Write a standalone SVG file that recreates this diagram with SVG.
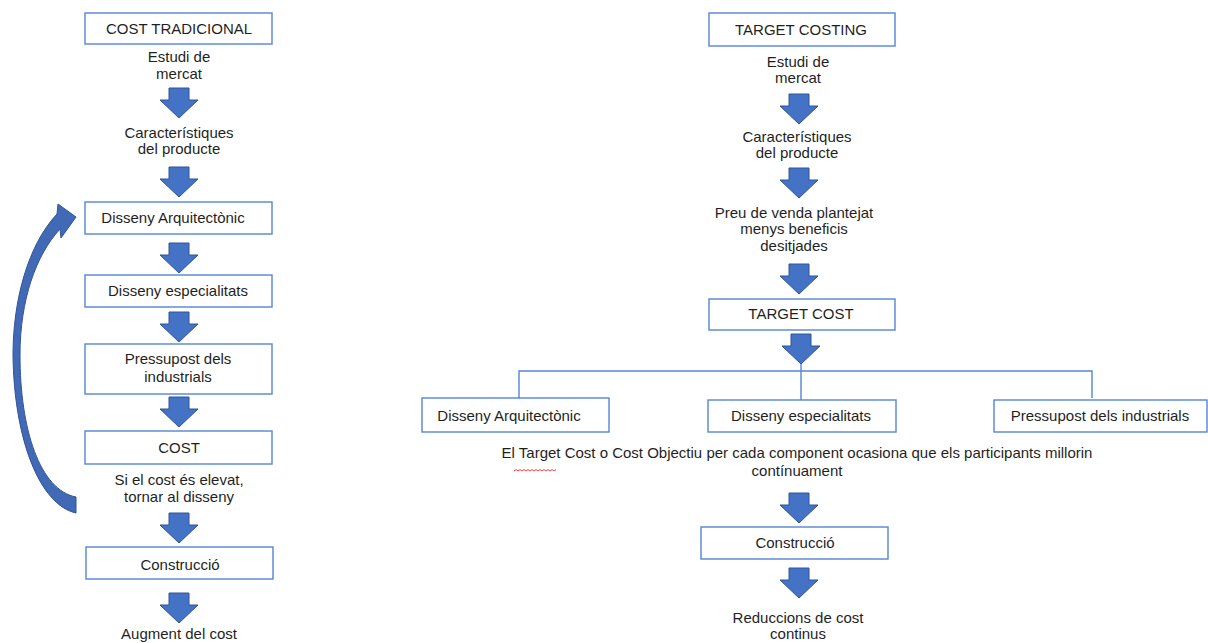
<svg xmlns="http://www.w3.org/2000/svg" width="1208" height="643" viewBox="0 0 1208 643">
  <defs>
    <style>
      .box { fill: #ffffff; stroke: #5585D5; stroke-width: 1.4; }
      .lbl { font-family: "Liberation Sans", Arial, sans-serif; font-size: 15px; fill: #1F1F1F; text-anchor: middle; }
      .link { fill: none; stroke: #5585D5; stroke-width: 1.4; }
      .blk { fill: #4472C4; stroke: #2F5597; stroke-width: 1; }
    </style>
    <!-- downward block arrow, origin at top centre -->
    <path id="down" class="blk" d="M-10,0 H10 V12 H19 L0,30 L-19,12 H-10 Z"/>
  </defs>

  <rect width="1208" height="643" fill="#ffffff"/>

  <!-- ===== Left column: traditional costing ===== -->
  <g id="cost-tradicional">
    <rect class="box" x="85" y="13" width="187" height="31"/>
    <text class="lbl" x="179" y="34">COST TRADICIONAL</text>
  </g>
  <g id="l-estudi">
    <text class="lbl" x="179" y="62">Estudi de</text>
    <text class="lbl" x="179" y="79">mercat</text>
  </g>
  <g id="l-caracteristiques">
    <text class="lbl" x="179" y="138">Característiques</text>
    <text class="lbl" x="179" y="154">del producte</text>
  </g>
  <g id="l-disseny-arq">
    <rect class="box" x="85" y="202" width="187" height="32"/>
    <text class="lbl" x="173" y="223">Disseny Arquitectònic</text>
  </g>
  <g id="l-disseny-esp">
    <rect class="box" x="85" y="275" width="187" height="32"/>
    <text class="lbl" x="178" y="296">Disseny especialitats</text>
  </g>
  <g id="l-pressupost">
    <rect class="box" x="85" y="344" width="187" height="50"/>
    <text class="lbl" x="178" y="364">Pressupost dels</text>
    <text class="lbl" x="178" y="382">industrials</text>
  </g>
  <g id="l-cost">
    <rect class="box" x="85" y="431" width="187" height="33"/>
    <text class="lbl" x="179" y="453">COST</text>
  </g>
  <g id="l-elevat">
    <text class="lbl" x="179" y="485">Si el cost és elevat,</text>
    <text class="lbl" x="179" y="502">tornar al disseny</text>
  </g>
  <g id="l-construccio">
    <rect class="box" x="86" y="547" width="187" height="32"/>
    <text class="lbl" x="180" y="570">Construcció</text>
  </g>
  <g id="l-augment">
    <text class="lbl" x="179" y="639">Augment del cost</text>
  </g>

  <!-- ===== Right column: target costing ===== -->
  <g id="target-costing">
    <rect class="box" x="709" y="13" width="186" height="33"/>
    <text class="lbl" x="801" y="35">TARGET COSTING</text>
  </g>
  <g id="r-estudi">
    <text class="lbl" x="798" y="67">Estudi de</text>
    <text class="lbl" x="798" y="83">mercat</text>
  </g>
  <g id="r-caracteristiques">
    <text class="lbl" x="797" y="142">Característiques</text>
    <text class="lbl" x="797" y="158">del producte</text>
  </g>
  <g id="r-preu">
    <text class="lbl" x="794" y="218">Preu de venda plantejat</text>
    <text class="lbl" x="794" y="234">menys beneficis</text>
    <text class="lbl" x="794" y="251">desitjades</text>
  </g>
  <g id="target-cost">
    <rect class="box" x="709" y="299" width="186" height="31"/>
    <text class="lbl" x="801" y="319">TARGET COST</text>
  </g>
  <g id="r-disseny-arq">
    <rect class="box" x="422" y="398" width="187" height="34"/>
    <text class="lbl" x="509" y="421">Disseny Arquitectònic</text>
  </g>
  <g id="r-disseny-esp">
    <rect class="box" x="708" y="400" width="188" height="32"/>
    <text class="lbl" x="801" y="421">Disseny especialitats</text>
  </g>
  <g id="r-pressupost">
    <rect class="box" x="994" y="400" width="213" height="32"/>
    <text class="lbl" x="1100" y="421">Pressupost dels industrials</text>
  </g>
  <g id="r-objectiu">
    <text class="lbl" x="797" y="458">El Target Cost o Cost Objectiu per cada component ocasiona que els participants millorin</text>
    <text class="lbl" x="797" y="476">contínuament</text>
    <!-- spell-check squiggle under "Target" -->
    <path d="M514,471 l2,-1.5 l2,1.5 l2,-1.5 l2,1.5 l2,-1.5 l2,1.5 l2,-1.5 l2,1.5 l2,-1.5 l2,1.5 l2,-1.5 l2,1.5 l2,-1.5 l2,1.5 l2,-1.5 l2,1.5 l2,-1.5 l2,1.5 l2,-1.5 l2,1.5 l2,-1.5" fill="none" stroke="#E03030" stroke-width="0.9"/>
  </g>
  <g id="r-construccio">
    <rect class="box" x="701" y="527" width="187" height="32"/>
    <text class="lbl" x="795" y="548">Construcció</text>
  </g>
  <g id="r-reduccions">
    <text class="lbl" x="798" y="623">Reduccions de cost</text>
    <text class="lbl" x="798" y="639">continus</text>
  </g>

  <!-- ===== Connectors ===== -->
  <g id="connectors">
    <!-- left column flow arrows -->
    <use href="#down" transform="translate(179,88)"/>
    <use href="#down" transform="translate(179,167)"/>
    <use href="#down" transform="translate(179,243)"/>
    <use href="#down" transform="translate(179,312)"/>
    <use href="#down" transform="translate(179,397)"/>
    <use href="#down" transform="translate(179,513)"/>
    <use href="#down" transform="translate(179,593)"/>

    <!-- loop back from COST to the design stage -->
    <path fill="#4169B5" stroke="#2F5597" stroke-width="1"
          d="M76,513 C40,505 14,440 13,355 C13,300 28,245 57,214 L58,204 L76,217 L61,238 L60,229 C36,255 20,300 20,355 C20,430 40,490 76,497 Z"/>

    <!-- right column flow arrows -->
    <use href="#down" transform="translate(799,94)"/>
    <use href="#down" transform="translate(799,168)"/>
    <use href="#down" transform="translate(799,264)"/>
    <use href="#down" transform="translate(801,334)"/>
    <use href="#down" transform="translate(799,493)"/>
    <use href="#down" transform="translate(799,568)"/>

    <!-- split from TARGET COST to the three components -->
    <path class="link" d="M519,398 V371 H1092 V398 M801,364 V400"/>
  </g>
</svg>
